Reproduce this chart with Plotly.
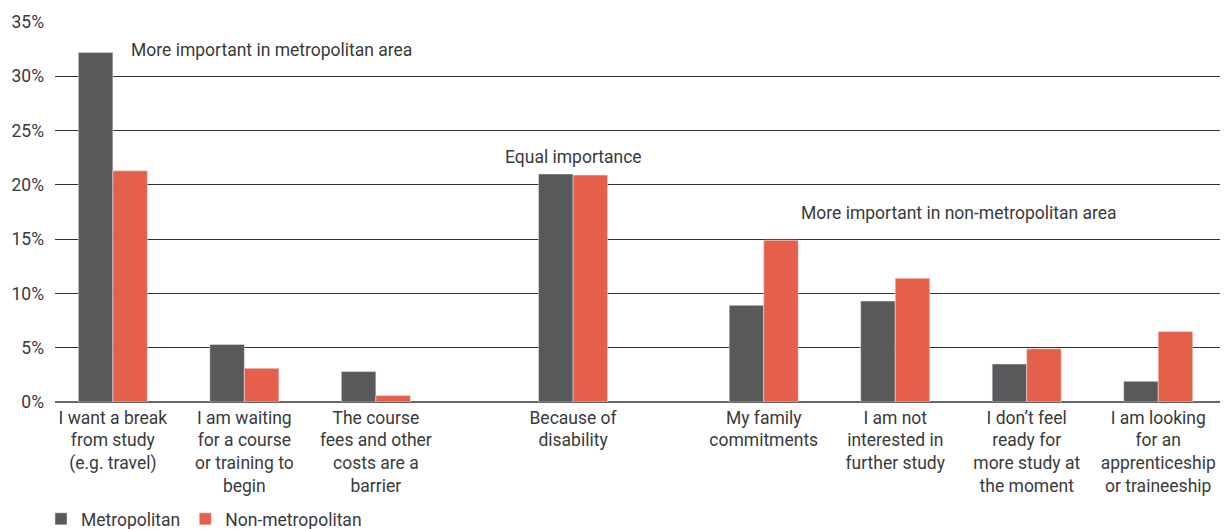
import plotly.graph_objects as go

# survey reasons, grouped as: more important metro / equal / more important non-metro
groups = [
    ["I want a break<br>from study<br>(e.g. travel)",
     "I am waiting<br>for a course<br>or training to<br>begin",
     "The course<br>fees and other<br>costs are a<br>barrier"],
    ["Because of<br>disability"],
    ["My family<br>commitments",
     "I am not<br>interested in<br>further study",
     "I don’t feel<br>ready for<br>more study at<br>the moment",
     "I am looking<br>for an<br>apprenticeship<br>or traineeship"],
]
metropolitan = [32.2, 5.3, 2.8, 21.0, 8.9, 9.3, 3.5, 1.9]
non_metropolitan = [21.3, 3.1, 0.6, 20.9, 14.9, 11.4, 4.9, 6.5]
y_ticks = [0, 5, 10, 15, 20, 25, 30, 35]

# x positions: categories one unit apart, a bit of extra space after each group
group_gaps = [0.5, 0.45, 0]
labels, xpos = [], []
pos = 0.0
for g, gap in zip(groups, group_gaps):
    for lab in g:
        labels.append(lab)
        xpos.append(pos)
        pos += 1
    pos += gap

font = "Roboto, Arial, sans-serif"
txt = "#3a3a3a"
fs = 17.5

fig = go.Figure()
fig.add_bar(x=xpos, y=metropolitan, name="Metropolitan", marker_color="#58595b")
fig.add_bar(x=xpos, y=non_metropolitan, name="Non-metropolitan", marker_color="#e5604a")

fig.update_layout(
    width=1230, height=529,
    margin=dict(l=55, r=10, t=22, b=127, autoexpand=False),
    plot_bgcolor="white", paper_bgcolor="white",
    barmode="group", bargap=0.475, bargroupgap=0,
    font=dict(family=font, size=fs, color=txt),
    showlegend=True,
    legend=dict(orientation="h", x=-0.012, xanchor="left",
                yref="container", y=0.019, yanchor="middle",
                font=dict(size=fs, color=txt), traceorder="normal",
                itemwidth=30, tracegroupgap=0),
)
fig.update_xaxes(range=[-0.44, 8.42], tickvals=xpos, ticktext=labels,
                 showgrid=False, zeroline=False, showline=False, ticks="",
                 ticklabelstandoff=3, automargin=False,
                 tickfont=dict(size=fs, color=txt))
fig.update_yaxes(range=[0, 35], tickvals=y_ticks, ticktext=[f"{v}%" for v in y_ticks],
                 showgrid=True, gridcolor="#333333", gridwidth=1.2,
                 zeroline=True, zerolinecolor="#666666", zerolinewidth=2,
                 ticks="", ticklabelstandoff=10, automargin=False,
                 tickfont=dict(size=fs, color=txt))

fig.add_annotation(x=0.12, y=32.4, xref="x", yref="y", text="More important in metropolitan area",
                   showarrow=False, xanchor="left", font=dict(size=fs, color=txt))
fig.add_annotation(x=3.5, y=22.6, xref="x", yref="y", text="Equal importance",
                   showarrow=False, xanchor="center", font=dict(size=fs, color=txt))
fig.add_annotation(x=5.22, y=17.4, xref="x", yref="y", text="More important in non-metropolitan area",
                   showarrow=False, xanchor="left", font=dict(size=fs, color=txt))

# drop the default 8px page margin so the 1230x529 figure fills the window exactly
fig.write_html("out.html", config={"displayModeBar": False},
               post_script="document.body.style.margin='0';document.body.style.overflow='hidden';")
